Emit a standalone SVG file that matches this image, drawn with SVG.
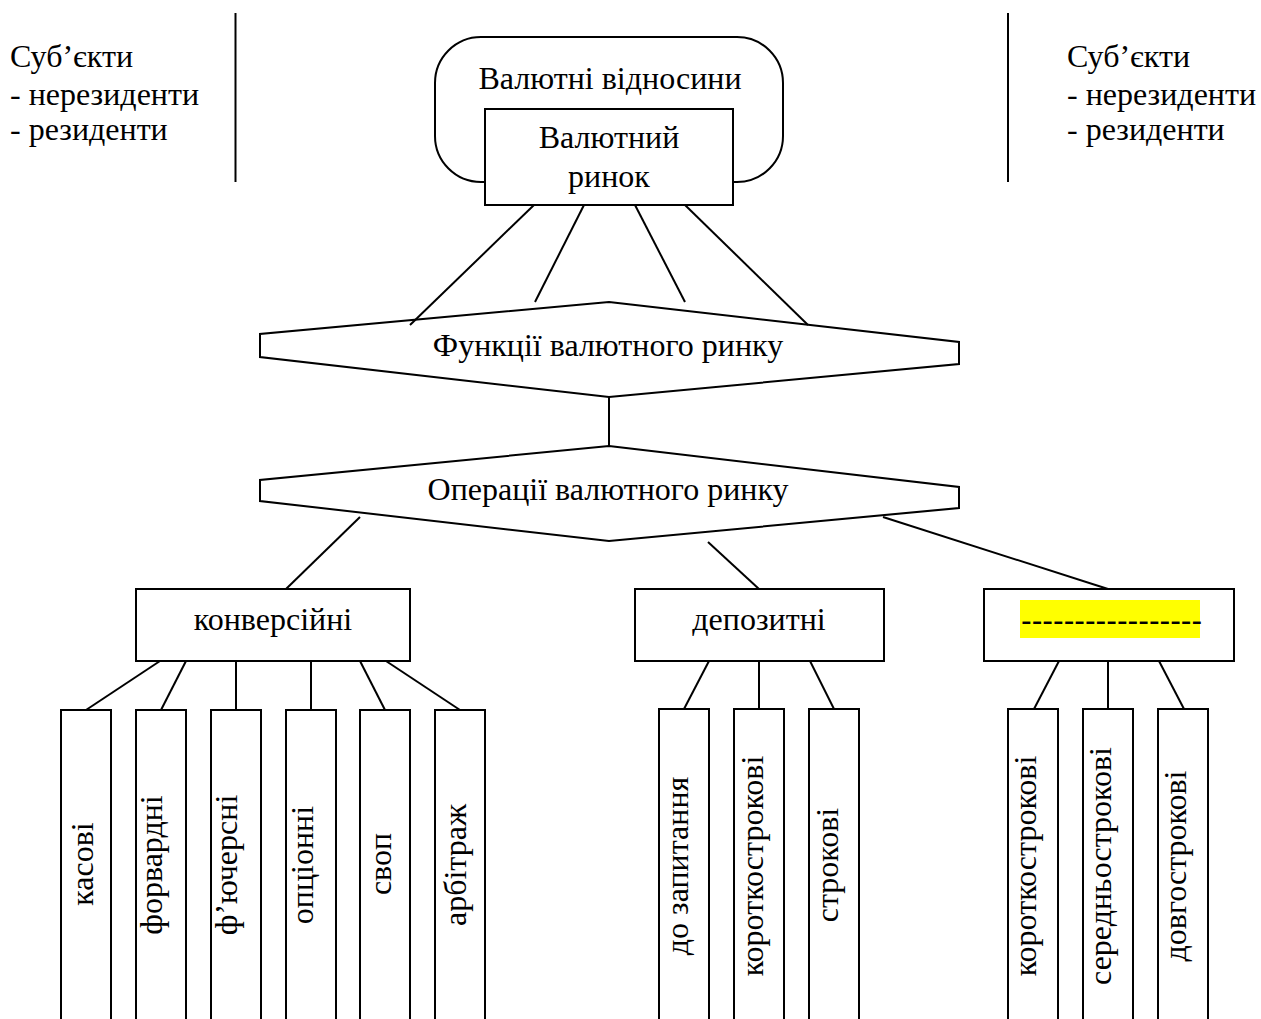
<svg xmlns="http://www.w3.org/2000/svg" width="1261" height="1019" viewBox="0 0 1261 1019">
<style>
.s{fill:#fff;stroke:#000;stroke-width:2}
.l{stroke:#000;stroke-width:2;fill:none}
.t{font-family:"Liberation Serif","Times New Roman",serif;font-size:32px;fill:#000}
.m{text-anchor:middle}
</style>
<rect width="1261" height="1019" fill="#fff"/>
<g id="subjects-left">
<text class="t" x="10" y="67">Суб’єкти</text>
<text class="t" x="10" y="105">- нерезиденти</text>
<text class="t" x="10" y="140">- резиденти</text>
</g>
<g id="subjects-right">
<text class="t" x="1067" y="67">Суб’єкти</text>
<text class="t" x="1067" y="105">- нерезиденти</text>
<text class="t" x="1067" y="140">- резиденти</text>
</g>
<g id="dividers">
<line class="l" x1="235.5" y1="13" x2="235.5" y2="182"/>
<line class="l" x1="1008" y1="13" x2="1008" y2="182"/>
</g>
<g id="relations">
<rect class="s" x="435" y="37" width="348" height="145" rx="46" ry="46"/>
<text class="t m" x="610" y="89">Валютні відносини</text>
</g>
<g id="market">
<rect class="s" x="485" y="109" width="248" height="96"/>
<text class="t m" x="609" y="148">Валютний</text>
<text class="t m" x="609" y="187">ринок</text>
</g>
<g id="functions">
<polygon class="s" points="609,302 959,342 959,364 609,397 260,357 260,334"/>
<text class="t m" x="608" y="356">Функції валютного ринку</text>
</g>
<g id="operations">
<polygon class="s" points="609,446 959,487 959,508 609,541 260,501 260,480"/>
<text class="t m" x="608" y="500">Операції валютного ринку</text>
</g>
<g id="conversion">
<rect class="s" x="136" y="589" width="274" height="72"/>
<text class="t m" x="273" y="630">конверсійні</text>
</g>
<g id="deposit">
<rect class="s" x="635" y="589" width="249" height="72"/>
<text class="t m" x="759" y="630">депозитні</text>
</g>
<g id="third">
<rect class="s" x="984" y="589" width="250" height="72"/>
<rect x="1020" y="600" width="180" height="38" fill="#ffff00"/>
<text x="1021" y="631" style="font-family:'Liberation Sans',Arial,sans-serif;font-size:32px;fill:#000">-----------------</text>
</g>
<g id="c-kasovi"><rect class="s" x="61" y="710" width="50" height="330"/><text class="t m" transform="translate(93,864) rotate(-90)">касові</text></g>
<g id="c-forvardni"><rect class="s" x="136" y="710" width="50" height="330"/><text class="t m" transform="translate(162,865) rotate(-90)">форвардні</text></g>
<g id="c-fiuchersni"><rect class="s" x="211" y="710" width="50" height="330"/><text class="t m" transform="translate(237,865) rotate(-90)">ф’ючерсні</text></g>
<g id="c-optsionni"><rect class="s" x="286" y="710" width="50" height="330"/><text class="t m" transform="translate(313,865) rotate(-90)">опціонні</text></g>
<g id="c-svop"><rect class="s" x="360" y="710" width="50" height="330"/><text class="t m" transform="translate(391,864) rotate(-90)">своп</text></g>
<g id="c-arbitrazh"><rect class="s" x="435" y="710" width="50" height="330"/><text class="t m" transform="translate(466,865) rotate(-90)">арбітраж</text></g>
<g id="d-zapytannia"><rect class="s" x="659" y="709" width="50" height="330"/><text class="t m" transform="translate(688,866) rotate(-90)">до запитання</text></g>
<g id="d-korotko"><rect class="s" x="734" y="709" width="50" height="330"/><text class="t m" transform="translate(763,866) rotate(-90)">короткострокові</text></g>
<g id="d-strokovi"><rect class="s" x="809" y="709" width="50" height="330"/><text class="t m" transform="translate(838,865) rotate(-90)">строкові</text></g>
<g id="t-korotko"><rect class="s" x="1008" y="709" width="50" height="330"/><text class="t m" transform="translate(1036,866) rotate(-90)">короткострокові</text></g>
<g id="t-seredno"><rect class="s" x="1083" y="709" width="50" height="330"/><text class="t m" transform="translate(1111,866) rotate(-90)">середньострокові</text></g>
<g id="t-dovgo"><rect class="s" x="1158" y="709" width="50" height="330"/><text class="t m" transform="translate(1186,866) rotate(-90)">довгострокові</text></g>
<g id="connectors" class="l">
<line x1="534" y1="205" x2="410" y2="325"/>
<line x1="584" y1="205" x2="535" y2="302"/>
<line x1="635" y1="205" x2="685" y2="302"/>
<line x1="685" y1="205" x2="808" y2="325"/>
<line x1="609" y1="397" x2="609" y2="446"/>
<line x1="360" y1="517" x2="286" y2="589"/>
<line x1="708" y1="542" x2="759" y2="589"/>
<line x1="883" y1="517" x2="1108" y2="589"/>
<line x1="160" y1="661" x2="86" y2="710"/>
<line x1="186" y1="661" x2="161" y2="710"/>
<line x1="236" y1="661" x2="236" y2="710"/>
<line x1="311" y1="661" x2="311" y2="710"/>
<line x1="360" y1="661" x2="385" y2="710"/>
<line x1="386" y1="661" x2="460" y2="710"/>
<line x1="709" y1="661" x2="684" y2="709"/>
<line x1="759" y1="661" x2="759" y2="709"/>
<line x1="810" y1="661" x2="834" y2="709"/>
<line x1="1059" y1="661" x2="1034" y2="709"/>
<line x1="1108" y1="661" x2="1108" y2="709"/>
<line x1="1159" y1="661" x2="1184" y2="709"/>
</g>
</svg>
